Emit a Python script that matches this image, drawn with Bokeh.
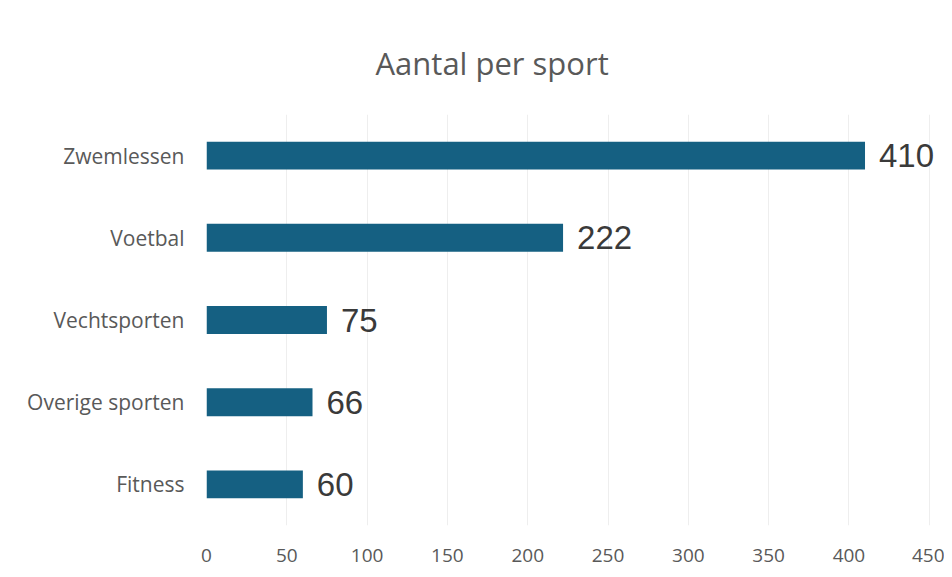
from bokeh.plotting import figure
from bokeh.models import ColumnDataSource, FactorRange, Range1d, FixedTicker, LabelSet
from bokeh.core.properties import value
from bokeh.embed import file_html
from bokeh.resources import INLINE

categories = ["Fitness", "Overige sporten", "Vechtsporten", "Voetbal", "Zwemlessen"]
counts = [60, 66, 75, 222, 410]
x_ticks = [0, 50, 100, 150, 200, 250, 300, 350, 400, 450]

src = ColumnDataSource(dict(cat=categories, val=counts, lbl=[str(v) for v in counts]))

p = figure(
    y_range=FactorRange(factors=categories, range_padding=0),
    x_range=Range1d(0, 457),
    width=944, height=569,
    output_backend="svg", toolbar_location=None,
    title="Aantal per sport",
    min_border_left=206, min_border_right=4, min_border_top=114, min_border_bottom=44,
)
p.hbar(y="cat", right="val", height=0.34, source=src, color="#156082", line_color=None)
labels = LabelSet(x="val", y="cat", text="lbl", source=src, x_offset=14,
                  text_baseline="middle", text_align="left",
                  text_font=value("Liberation Sans"), text_font_size=value("33px"),
                  text_color=value("#3a3a3a"))
p.add_layout(labels)

p.title.align = "left"
p.title.offset = 169
p.title.standoff = 62
p.title.text_font = "Open Sans"
p.title.text_font_size = "31px"
p.title.text_font_style = "normal"
p.title.text_color = "#595959"

p.xaxis.ticker = FixedTicker(ticks=x_ticks)
for ax in (p.xaxis, p.yaxis):
    ax.axis_line_color = None
    ax.major_tick_line_color = None
    ax.minor_tick_line_color = None
    ax.major_label_text_color = "#595959"
    ax.major_label_text_font = "Open Sans"
p.xaxis.major_label_text_font_size = "19px"
p.yaxis.major_label_text_font_size = "21px"
p.xaxis.major_label_standoff = 17
p.yaxis.major_label_standoff = 16

p.xgrid.grid_line_color = "#eeeeee"
p.ygrid.grid_line_color = None
p.outline_line_color = None
p.background_fill_color = "white"
p.border_fill_color = "white"

open("out.html", "w").write(file_html(p, INLINE))
